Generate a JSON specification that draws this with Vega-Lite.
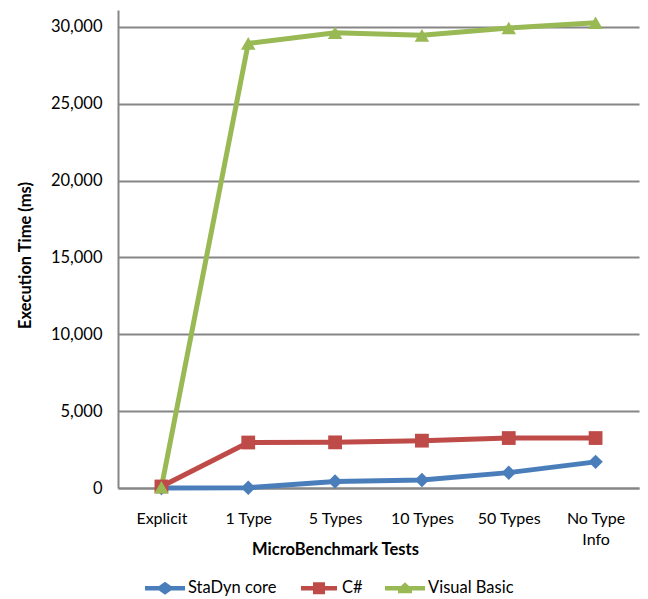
{
  "$schema": "https://vega.github.io/schema/vega-lite/v6.json",
  "autosize": "none",
  "width": 521,
  "height": 478,
  "padding": {"left": 118, "top": 10, "right": 9, "bottom": 111},
  "background": "white",
  "config": {
    "font": "Lato",
    "view": {"stroke": null}
  },
  "data": {
    "values": [
      {"test": "Explicit", "series": "StaDyn core", "value": 0},
      {"test": "1 Type", "series": "StaDyn core", "value": 20},
      {"test": "5 Types", "series": "StaDyn core", "value": 430},
      {"test": "10 Types", "series": "StaDyn core", "value": 520},
      {"test": "50 Types", "series": "StaDyn core", "value": 1000},
      {"test": "No Type Info", "series": "StaDyn core", "value": 1700},
      {"test": "Explicit", "series": "C#", "value": 100},
      {"test": "1 Type", "series": "C#", "value": 2960},
      {"test": "5 Types", "series": "C#", "value": 2970},
      {"test": "10 Types", "series": "C#", "value": 3080},
      {"test": "50 Types", "series": "C#", "value": 3250},
      {"test": "No Type Info", "series": "C#", "value": 3250},
      {"test": "Explicit", "series": "Visual Basic", "value": 50},
      {"test": "1 Type", "series": "Visual Basic", "value": 28930},
      {"test": "5 Types", "series": "Visual Basic", "value": 29620},
      {"test": "10 Types", "series": "Visual Basic", "value": 29450},
      {"test": "50 Types", "series": "Visual Basic", "value": 29930},
      {"test": "No Type Info", "series": "Visual Basic", "value": 30270}
    ]
  },
  "encoding": {
    "x": {
      "field": "test",
      "type": "ordinal",
      "sort": ["Explicit", "1 Type", "5 Types", "10 Types", "50 Types", "No Type Info"],
      "scale": {"type": "point", "padding": 0.5},
      "axis": {
        "title": "MicroBenchmark Tests",
        "titleFontSize": 16.5,
        "titleFontWeight": "bold",
        "titleColor": "black",
        "titleX": 217,
        "titleY": 61,
        "titleBaseline": "middle",
        "labelAngle": 0,
        "labelFontSize": 16,
        "labelColor": "black",
        "labelPadding": 22,
        "labelLineHeight": 21,
        "labelExpr": "datum.label == 'No Type Info' ? ['No Type', 'Info'] : datum.label",
        "ticks": false,
        "domainColor": "#868686",
        "domainWidth": 2,
        "grid": false
      }
    },
    "y": {
      "field": "value",
      "type": "quantitative",
      "scale": {"domain": [0, 31100], "nice": false},
      "axis": {
        "title": "Execution Time (ms)",
        "titleFontSize": 16.5,
        "titleFontWeight": "bold",
        "titleColor": "black",
        "titleX": -93,
        "titleY": 245,
        "titleBaseline": "middle",
        "titleAngle": -90,
        "values": [0, 5000, 10000, 15000, 20000, 25000, 30000],
        "format": ",.0f",
        "labelFontSize": 16.5,
        "labelColor": "black",
        "labelPadding": 16,
        "ticks": false,
        "domainColor": "#868686",
        "domainWidth": 2,
        "grid": true,
        "gridColor": "#868686",
        "gridWidth": 2
      }
    },
    "color": {
      "field": "series",
      "type": "nominal",
      "sort": ["StaDyn core", "C#", "Visual Basic"],
      "scale": {"domain": ["StaDyn core", "C#", "Visual Basic"], "range": ["#4A7EBB", "#BE4B48", "#98B954"]},
      "legend": {
        "orient": "none",
        "legendX": 27,
        "legendY": 558,
        "direction": "horizontal",
        "title": null,
        "padding": 0,
        "symbolSize": 1600,
        "labelFontSize": 16.5,
        "labelColor": "black",
        "labelOffset": 3,
        "columnPadding": 22,
        "encode": {
          "symbols": {
            "update": {
              "shape": {"signal": "datum.value === 'StaDyn core' ? 'M-1,-0.11L-0.3,-0.11L0,-0.32L0.3,-0.11L1,-0.11L1,0.11L0.3,0.11L0,0.32L-0.3,0.11L-1,0.11Z' : datum.value === 'C#' ? 'M-0.9,-0.11L-0.3,-0.11L-0.3,-0.3L0.3,-0.3L0.3,-0.11L0.9,-0.11L0.9,0.11L0.3,0.11L0.3,0.3L-0.3,0.3L-0.3,0.11L-0.9,0.11Z' : 'M-1,-0.11L-0.2,-0.11L0,-0.3L0.2,-0.11L1,-0.11L1,0.11L0.35,0.11L0.35,0.25L-0.35,0.25L-0.35,0.11L-1,0.11Z'"},
              "fill": {"scale": "color", "field": "value"},
              "fillOpacity": {"value": 1},
              "strokeWidth": {"value": 0}
            }
          }
        }
      }
    }
  },
  "layer": [
    {
      "mark": {"type": "line", "strokeWidth": 5}
    },
    {
      "transform": [{"filter": "datum.series === 'StaDyn core'"}],
      "mark": {"type": "point", "filled": true, "opacity": 1, "size": 210, "shape": "diamond"}
    },
    {
      "transform": [{"filter": "datum.series === 'C#'"}],
      "mark": {"type": "point", "filled": true, "opacity": 1, "size": 190, "shape": "square"}
    },
    {
      "transform": [{"filter": "datum.series === 'Visual Basic'"}],
      "mark": {"type": "point", "filled": true, "opacity": 1, "size": 210, "shape": "triangle-up"}
    }
  ]
}
